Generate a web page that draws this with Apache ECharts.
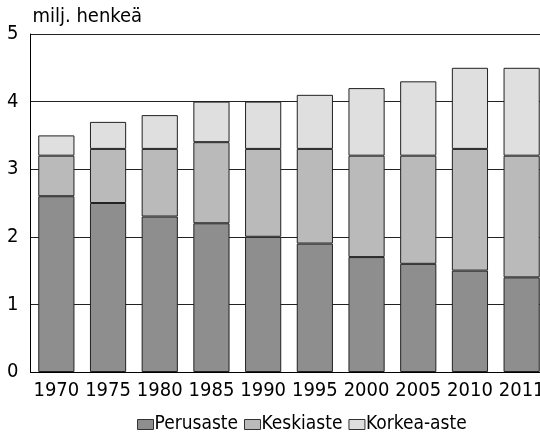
<!DOCTYPE html>
<html>
<head>
<meta charset="utf-8">
<script src="https://cdn.jsdelivr.net/npm/echarts@6/dist/echarts.min.js"></script>
<style>html,body{margin:0;padding:0;background:#fff;overflow:hidden}#c{width:548px;height:432px}</style>
</head>
<body>
<div id="c"></div>
<script>
const categories = ['1970','1975','1980','1985','1990','1995','2000','2005','2010','2011'];
const perusaste = [2.6, 2.5, 2.3, 2.2, 2.0, 1.9, 1.7, 1.6, 1.5, 1.4];
const keskiaste = [0.6, 0.8, 1.0, 1.2, 1.3, 1.4, 1.5, 1.6, 1.8, 1.8];
const korkeaAste = [0.3, 0.4, 0.5, 0.6, 0.7, 0.8, 1.0, 1.1, 1.2, 1.3];
const seriesNames = ['Perusaste', 'Keskiaste', 'Korkea-aste'];
const yTicks = [0, 1, 2, 3, 4, 5];

const FONT = '"Liberation Sans Narrow", "DejaVu Sans Condensed", sans-serif';
const colors = ['#8e8e8e', '#bababa', '#dfdfdf'];
const chart = echarts.init(document.getElementById('c'), null, {renderer: 'canvas'});
const mk = (name, data, i) => ({
  name, type: 'bar', stack: 'tot', data,
  barCategoryGap: '30%',
  itemStyle: {color: colors[i], borderColor: '#222', borderWidth: 1},
  emphasis: {disabled: true}
});
chart.setOption({
  animation: false,
  textStyle: {fontFamily: FONT},
  grid: {left: 30.5, width: 517, top: 34, height: 338, containLabel: false},
  legend: {
    top: 410, left: 132, itemWidth: 16, itemHeight: 10, itemGap: 6,
    textStyle: {fontFamily: FONT, fontSize: 19, color: '#000', padding: [0,0,0,-4]},
    icon: 'rect',
    data: seriesNames.map((n, i) => ({name: n, itemStyle: {color: colors[i], borderColor: '#333', borderWidth: 1}}))
  },
  xAxis: {
    type: 'category', data: categories,
    axisLine: {lineStyle: {color: '#000', width: 1}},
    axisTick: {show: false},
    axisLabel: {fontFamily: FONT, fontSize: 20, color: '#000', margin: 9, interval: 0}
  },
  yAxis: {
    type: 'value', min: yTicks[0], max: yTicks[yTicks.length-1], interval: 1,
    name: 'milj. henkeä', nameLocation: 'end', nameGap: 7,
    nameTextStyle: {fontFamily: FONT, fontSize: 20, color: '#000', align: 'left', padding: [0,0,0,2]},
    axisLine: {show: true, lineStyle: {color: '#000', width: 1}},
    axisTick: {show: false},
    axisLabel: {fontFamily: FONT, fontSize: 20, color: '#000', margin: 12},
    splitLine: {lineStyle: {color: '#222', width: 1}}
  },
  series: [mk(seriesNames[0], perusaste, 0), mk(seriesNames[1], keskiaste, 1), mk(seriesNames[2], korkeaAste, 2)]
});
</script>
</body>
</html>
